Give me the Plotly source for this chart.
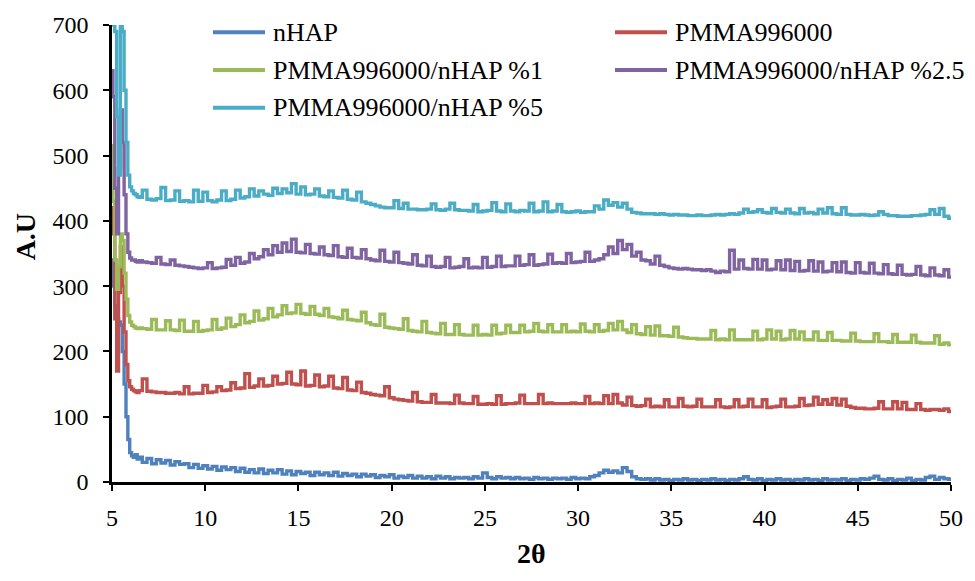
import numpy as np
import plotly.graph_objects as go

# ---------------- data ----------------
names = ["nHAP", "PMMA996000", "PMMA996000/nHAP %1",
         "PMMA996000/nHAP %2.5", "PMMA996000/nHAP %5"]
colors = ["#4F81BD", "#C0504D", "#9BBB59", "#8064A2", "#4BACC6"]

two_theta_start = [5.0, 5.1, 5.2, 5.3, 5.4, 5.5, 5.6, 5.7, 5.8, 5.9,
                   6.0, 6.1, 6.2, 6.3, 6.4]
two_theta_main = np.round(np.arange(6.5, 50.001, 0.25), 2)   # 6.5 ... 50.0

x_ticks = [5, 10, 15, 20, 25, 30, 35, 40, 45, 50]
y_ticks = [0, 100, 200, 300, 400, 500, 600, 700]

nhap_start = [340, 300, 270, 250, 245, 240, 200, 150, 100, 65, 45, 40, 38, 42, 35]
nhap_main = [
    38, 30, 36, 28, 34, 29, 33, 26, 31, 27,
    28, 22, 27, 21, 25, 20, 24, 18, 23, 19,
    22, 16, 21, 15, 19, 14, 20, 13, 18, 14,
    19, 12, 17, 11, 16, 13, 15, 10, 15, 11,
    14, 10, 15, 9, 13, 10, 12, 8, 12, 9,
    11, 7, 10, 8, 11, 6, 9, 7, 10, 6,
    9, 6, 8, 5, 9, 6, 8, 5, 7, 6,
    7, 5, 8, 6, 14, 7, 5, 8, 6, 7,
    5, 7, 5, 6, 4, 7, 5, 6, 4, 6,
    5, 6, 4, 7, 5, 6, 5, 8, 10, 14,
    18, 15, 17, 14, 22, 16, 8, 5, 4, 5,
    3, 5, 3, 4, 2, 4, 3, 5, 3, 4,
    2, 4, 3, 5, 3, 4, 2, 4, 3, 5,
    8, 4, 3, 5, 2, 4, 3, 5, 3, 4,
    2, 4, 3, 5, 3, 4, 2, 5, 3, 4,
    3, 5, 2, 4, 3, 5, 4, 6, 9, 4,
    3, 5, 2, 4, 3, 6, 2, 4, 3, 7,
    9, 4, 7, 5, 4,
]

pmma_start = [420, 380, 250, 170, 290, 360, 300, 230, 180, 155, 146, 142, 140, 138, 137]
pmma_main = [
    140, 158, 139, 138, 137, 137, 136, 136, 137, 135,
    146, 135, 136, 136, 148, 137, 138, 146, 140, 141,
    152, 143, 144, 166, 145, 147, 158, 147, 148, 162,
    150, 151, 168, 150, 149, 170, 147, 148, 164, 146,
    147, 162, 144, 143, 160, 141, 140, 153, 137, 136,
    134, 133, 132, 146, 129, 127, 126, 125, 124, 137,
    123, 122, 122, 134, 121, 121, 121, 120, 133, 121,
    120, 120, 131, 119, 119, 120, 119, 132, 119, 120,
    120, 121, 133, 120, 120, 120, 134, 120, 121, 120,
    120, 120, 120, 121, 120, 120, 131, 120, 121, 120,
    132, 120, 134, 121, 118, 130, 117, 116, 117, 127,
    115, 116, 115, 126, 115, 115, 128, 116, 115, 116,
    127, 115, 115, 115, 126, 115, 114, 115, 126, 115,
    116, 127, 115, 115, 126, 114, 115, 116, 127, 115,
    115, 116, 128, 117, 118, 130, 119, 126, 119, 128,
    118, 127, 116, 114, 113, 113, 112, 112, 113, 123,
    112, 112, 123, 112, 122, 111, 111, 120, 111, 110,
    111, 111, 110, 112, 108,
]

pct1_start = [515, 430, 340, 295, 330, 380, 370, 320, 280, 255, 245, 240, 238, 236, 235]
pct1_main = [
    236, 235, 234, 249, 233, 233, 247, 233, 232, 248,
    231, 231, 246, 231, 232, 233, 249, 234, 236, 251,
    238, 241, 256, 244, 246, 262, 248, 250, 266, 253,
    256, 270, 258, 259, 272, 258, 257, 269, 257, 255,
    266, 253, 252, 250, 263, 249, 248, 247, 260, 244,
    241, 240, 257, 237, 236, 235, 234, 250, 232, 231,
    230, 246, 229, 228, 227, 243, 226, 226, 241, 226,
    225, 225, 240, 225, 226, 225, 240, 227, 228, 240,
    229, 229, 240, 230, 231, 243, 231, 230, 241, 230,
    230, 241, 230, 231, 230, 242, 231, 230, 241, 231,
    232, 243, 233, 246, 233, 229, 241, 227, 226, 238,
    225, 239, 224, 224, 223, 237, 222, 221, 220, 220,
    219, 219, 219, 232, 218, 219, 218, 233, 218, 218,
    218, 218, 231, 218, 219, 233, 219, 231, 218, 219,
    232, 219, 230, 218, 218, 230, 217, 217, 229, 217,
    217, 216, 216, 228, 216, 215, 215, 215, 227, 215,
    215, 214, 226, 214, 214, 214, 225, 214, 213, 213,
    213, 224, 211, 213, 210,
]

pct25_start = [630, 590, 450, 380, 480, 570, 520, 440, 380, 352, 343, 340, 340, 338, 337]
pct25_main = [
    339, 337, 336, 335, 344, 334, 333, 340, 332, 331,
    330, 329, 328, 327, 328, 336, 327, 328, 329, 341,
    332, 344, 335, 337, 350, 342, 345, 356, 348, 362,
    352, 366, 353, 372, 352, 351, 364, 350, 349, 360,
    348, 347, 362, 345, 344, 358, 344, 343, 356, 342,
    340, 339, 355, 338, 337, 352, 336, 335, 334, 348,
    332, 331, 346, 330, 329, 330, 344, 328, 329, 330,
    342, 328, 329, 328, 344, 329, 330, 346, 330, 331,
    331, 346, 332, 333, 348, 332, 333, 334, 349, 335,
    336, 335, 350, 336, 337, 338, 352, 338, 340, 342,
    348, 360, 350, 370, 356, 364, 346, 352, 340, 339,
    334, 346, 332, 330, 328, 327, 326, 327, 326, 325,
    325, 324, 325, 323, 321, 323, 322, 355, 326, 340,
    327, 326, 341, 326, 340, 325, 326, 339, 325, 340,
    324, 338, 323, 324, 339, 323, 337, 322, 323, 336,
    322, 337, 321, 320, 336, 321, 320, 335, 320, 319,
    333, 319, 318, 332, 318, 317, 318, 330, 317, 316,
    328, 317, 316, 325, 314,
]

pct5_start = [720, 700, 690, 560, 470, 700, 690, 600, 520, 470, 452, 446, 442, 440, 437]
pct5_main = [
    436, 447, 433, 432, 434, 451, 431, 432, 446, 430,
    431, 429, 447, 430, 444, 431, 429, 432, 446, 431,
    433, 447, 435, 437, 449, 438, 446, 441, 439, 450,
    442, 449, 443, 457, 441, 452, 440, 441, 449, 438,
    437, 446, 436, 435, 447, 433, 432, 444, 429, 427,
    425, 423, 421, 420, 420, 431, 419, 427, 418, 418,
    417, 417, 418, 426, 417, 416, 418, 427, 417, 416,
    416, 415, 425, 414, 415, 416, 428, 415, 414, 426,
    415, 414, 416, 415, 427, 414, 415, 429, 414, 415,
    425, 414, 413, 414, 415, 413, 414, 414, 423, 418,
    432, 424, 428, 421, 427, 418, 413, 412, 411, 411,
    411, 410, 411, 410, 409, 410, 409, 409, 408, 408,
    409, 408, 408, 409, 410, 409, 410, 411, 410, 412,
    418, 413, 414, 417, 413, 412, 419, 413, 412, 418,
    412, 411, 419, 412, 413, 411, 418, 412, 420, 411,
    410, 420, 410, 409, 409, 410, 409, 408, 409, 414,
    410, 408, 408, 407, 407, 407, 408, 408, 409, 410,
    417, 410, 419, 407, 404,
]

series_start = [nhap_start, pmma_start, pct1_start, pct25_start, pct5_start]
series_main = [nhap_main, pmma_main, pct1_main, pct25_main, pct5_main]

# ---------------- figure ----------------
W, H = 975, 581
ML, MR, MT, MB = 112, 24, 15, 99
PW, PH = W - ML - MR, H - MT - MB

def px_x(px):
    return (px - ML) / PW

def px_y(py):
    return (H - MB - py) / PH

FONT = "Liberation Serif, Times New Roman, serif"

fig = go.Figure()
x_all = list(two_theta_start) + list(two_theta_main)
for name, col, ys, ym in zip(names, colors, series_start, series_main):
    assert len(ym) == len(two_theta_main)
    fig.add_trace(go.Scatter(
        x=x_all, y=list(ys) + list(ym), mode="lines", name=name,
        line=dict(color=col, width=3.4, shape="hvh"), showlegend=False,
        hoverinfo="x+y+name"))

# legend drawn as line + text (two columns, three rows)
leg_rows = [22.5, 61, 99.5]
leg_cols = [(213, 265, 271), (615, 667, 673)]
for i, (name, col) in enumerate(zip(names, colors)):
    r, c = divmod(i, 2)
    x0, x1, xt = leg_cols[c]
    yy = leg_rows[r]
    fig.add_shape(type="line", xref="paper", yref="paper",
                  x0=px_x(x0), x1=px_x(x1), y0=px_y(yy), y1=px_y(yy),
                  line=dict(color=col, width=4))
    fig.add_annotation(text=name, xref="paper", yref="paper",
                       x=px_x(xt), y=px_y(yy), xanchor="left", yanchor="middle",
                       showarrow=False, font=dict(family=FONT, size=26, color="black"))

# axis titles
fig.add_annotation(text="<b>A.U</b>", xref="paper", yref="paper",
                   x=px_x(25), y=px_y(232), textangle=-90, showarrow=False,
                   xanchor="center", yanchor="middle",
                   font=dict(family=FONT, size=28, color="black"))
fig.add_annotation(text="<b>2θ</b>", xref="paper", yref="paper",
                   x=px_x(531), y=px_y(555), showarrow=False,
                   xanchor="center", yanchor="middle",
                   font=dict(family=FONT, size=28, color="black"))

fig.update_xaxes(range=[5, 50], tickvals=x_ticks, ticks="outside", ticklen=6,
                 tickwidth=2, tickcolor="black", showline=True, linewidth=2.5,
                 linecolor="black", showgrid=False, zeroline=False,
                 tickfont=dict(family=FONT, size=24, color="black"),
                 ticklabelstandoff=6)
fig.update_yaxes(range=[0, 700], tickvals=y_ticks, ticks="outside", ticklen=6,
                 tickwidth=2, tickcolor="black", showline=True, linewidth=2.5,
                 linecolor="black", showgrid=False, zeroline=False,
                 tickfont=dict(family=FONT, size=24, color="black"),
                 ticklabelstandoff=10)
fig.update_layout(width=W, height=H, margin=dict(l=ML, r=MR, t=MT, b=MB),
                  plot_bgcolor="white", paper_bgcolor="white",
                  font=dict(family=FONT, color="black"))

fig.write_html("out.html")
